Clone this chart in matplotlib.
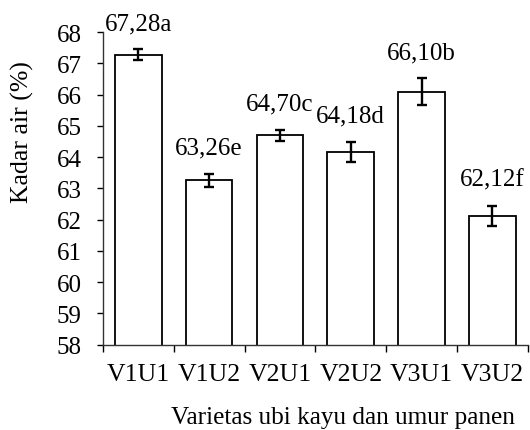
"""Kadar air per varietas ubi kayu dan umur panen."""

import matplotlib

matplotlib.use("Agg")
import matplotlib.pyplot as plt
import numpy as np
from matplotlib.ticker import FixedLocator

CATEGORIES = ["V1U1", "V1U2", "V2U1", "V2U2", "V3U1", "V3U2"]
VALUES = [67.28, 63.26, 64.70, 64.18, 66.10, 62.12]
ERRORS = [0.17, 0.20, 0.18, 0.32, 0.42, 0.33]
LETTERS = ["a", "e", "c", "d", "b", "f"]
Y_TICKS = list(range(58, 69))

plt.rcParams["font.family"] = ["Liberation Serif", "DejaVu Serif"]

fig = plt.figure(figsize=(5.30, 4.31), dpi=100)
ax = fig.add_axes([0.194, 0.198, 0.802, 0.725])

x = np.arange(len(CATEGORIES))
ax.bar(x, VALUES, width=0.66, color="white", edgecolor="black", linewidth=1.3, zorder=2)
ax.errorbar(x, VALUES, yerr=ERRORS, fmt="none", ecolor="black", elinewidth=1.7,
            capsize=3.6, capthick=1.7, zorder=3)

for xi, val, err, let in zip(x, VALUES, ERRORS, LETTERS):
    label = f"{val:.2f}".replace(".", ",") + let
    ax.annotate(label, xy=(xi, val + err), xytext=(0, 19), textcoords="offset points",
                ha="center", va="center", fontsize=18, annotation_clip=False)

ax.set_xlim(-0.5, len(CATEGORIES) - 0.5)
ax.set_ylim(58, 68)
ax.set_yticks(Y_TICKS)
ax.tick_params(axis="y", labelsize=18, length=4.3, width=1.0, pad=11, direction="out")

ax.set_xticks(x)
ax.set_xticklabels(CATEGORIES)
ax.xaxis.set_minor_locator(FixedLocator(np.arange(-0.5, len(CATEGORIES), 1.0)))
ax.tick_params(axis="x", which="major", length=0, labelsize=18.5, pad=13)
ax.tick_params(axis="x", which="minor", length=5, width=1.0, direction="out")

for spine in ["top", "right"]:
    ax.spines[spine].set_visible(False)
for spine in ["left", "bottom"]:
    ax.spines[spine].set_linewidth(1.0)
    ax.spines[spine].set_color("#333333")

fig.text(0.043, 0.694, "Kadar air (%)", rotation=90, ha="center", va="center", fontsize=18.5)
fig.text(0.322, 0.030, "Varietas ubi kayu dan umur panen", ha="left", va="center", fontsize=18.2)

fig.savefig("out.png", dpi=100)
